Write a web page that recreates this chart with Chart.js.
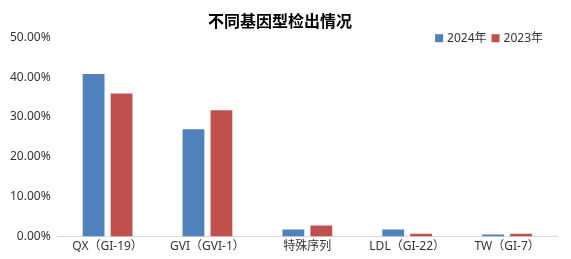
<!DOCTYPE html>
<html>
<head>
<meta charset="utf-8">
<script src="https://cdn.jsdelivr.net/npm/chart.js@4/dist/chart.umd.min.js"></script>
<style>
  html, body { margin: 0; padding: 0; background: #ffffff; }
  #wrap { width: 571px; height: 259px; position: relative; }
</style>
</head>
<body>
<div id="wrap"><canvas id="c"></canvas></div>
<script>
const categories = ["QX（GI-19）", "GVI（GVI-1）", "特殊序列", "LDL（GI-22）", "TW（GI-7）"];
const series2024 = [40.8, 26.9, 1.8, 1.8, 0.5];
const series2023 = [35.9, 31.7, 2.8, 0.7, 0.7];
const yTicks = [0, 10, 20, 30, 40, 50];
const title = "不同基因型检出情况";

const FONT = "'Noto Sans', 'Noto Sans CJK SC', sans-serif";

// Legend drawn at the top-right, overlapping the top of the plot area as in the reference
const cornerLegend = {
  id: 'cornerLegend',
  afterDraw(chart) {
    const ctx = chart.ctx;
    const area = chart.chartArea;
    ctx.save();
    ctx.font = '12px ' + FONT;
    ctx.textBaseline = 'middle';
    ctx.textAlign = 'left';
    const box = 8, gap = 4, itemGap = 5;
    const items = chart.data.datasets.map(ds => ({ label: ds.label, color: ds.backgroundColor, w: box + gap + ctx.measureText(ds.label).width }));
    const total = items.reduce((s, it) => s + it.w, 0) + itemGap * (items.length - 1);
    let x = area.right - 14 - total;
    const yc = area.top + 1;
    items.forEach(it => {
      ctx.fillStyle = it.color;
      ctx.fillRect(x, yc - box / 2, box, box);
      ctx.fillStyle = '#333333';
      ctx.fillText(it.label, x + box + gap, yc);
      x += it.w + itemGap;
    });
    ctx.restore();
  }
};

new Chart(document.getElementById('c'), {
  type: 'bar',
  data: {
    labels: categories,
    datasets: [
      { label: '2024年', data: series2024, backgroundColor: '#4F81BD', categoryPercentage: 0.56, barPercentage: 0.78 },
      { label: '2023年', data: series2023, backgroundColor: '#C0504D', categoryPercentage: 0.56, barPercentage: 0.78 }
    ]
  },
  plugins: [cornerLegend],
  options: {
    responsive: true,
    maintainAspectRatio: false,
    animation: false,
    layout: { padding: { left: 3, right: 14, top: 0, bottom: 2 } },
    plugins: {
      title: {
        display: true,
        text: title,
        color: '#000000',
        font: { family: FONT, size: 16, weight: 'bold' },
        padding: { top: 13, bottom: 5 }
      },
      legend: { display: false },
      tooltip: { enabled: false }
    },
    scales: {
      x: {
        grid: { display: false, drawTicks: false },
        border: { display: true, color: '#d9d9d9', width: 1 },
        ticks: { color: '#333333', font: { family: FONT, size: 12 }, padding: 3, maxRotation: 0, autoSkip: false }
      },
      y: {
        min: 0,
        max: 50,
        grid: { display: false, drawTicks: false },
        border: { display: false },
        afterBuildTicks: (axis) => { axis.ticks = yTicks.map(v => ({ value: v })); },
        ticks: {
          color: '#333333',
          font: { family: FONT, size: 12 },
          padding: 7,
          callback: (v) => Number(v).toFixed(2) + '%'
        }
      }
    }
  }
});
</script>
</body>
</html>
